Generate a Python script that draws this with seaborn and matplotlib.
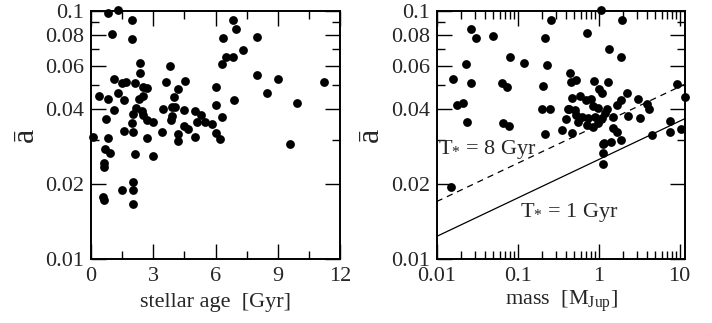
import numpy as np
import pandas as pd
import matplotlib
matplotlib.use("Agg")
import matplotlib.pyplot as plt
from matplotlib.ticker import FixedLocator, NullFormatter, FixedFormatter
import seaborn as sns

# ---- stellar age vs. mean semimajor-axis ratio ----
age_gyr = [0.80, 1.32, 1.99, 1.00, 1.99, 6.82, 6.99, 6.38, 8.02, 7.31,
           6.50, 6.83, 6.32, 2.38, 3.81, 2.38, 8.02, 9.00, 11.22, 1.09,
           1.51, 1.69, 2.11, 2.49, 2.72, 3.62, 4.52, 4.20, 6.01, 0.39,
           0.80, 1.30, 1.61, 2.30, 2.49, 4.02, 8.50, 6.90, 9.92, 1.11,
           2.19, 2.48, 2.01, 3.49, 3.89, 4.07, 3.91, 3.84, 4.50, 5.00,
           5.10, 5.31, 5.51, 5.82, 6.01, 6.32, 0.71, 1.99, 2.72, 2.99,
           4.49, 4.68, 1.58, 2.01, 3.41, 4.20, 4.20, 5.02, 6.03, 6.22,
           0.11, 0.80, 2.72, 9.60, 0.66, 0.90, 2.11, 3.01, 0.61, 0.61,
           0.59, 0.61, 1.50, 2.01, 2.01, 2.01, 2.52]
abar_age = [0.0976, 0.1006, 0.0917, 0.0805, 0.0771, 0.0917, 0.0846, 0.0773, 0.0786, 0.0694,
            0.0652, 0.0648, 0.0608, 0.0617, 0.0600, 0.0562, 0.0550, 0.0529, 0.0514, 0.0529,
            0.0509, 0.0514, 0.0513, 0.0494, 0.0486, 0.0516, 0.0519, 0.0482, 0.0491, 0.0454,
            0.0439, 0.0464, 0.0438, 0.0442, 0.0454, 0.0447, 0.0464, 0.0436, 0.0426, 0.0399,
            0.0404, 0.0394, 0.0382, 0.0403, 0.0410, 0.0410, 0.0377, 0.0362, 0.0396, 0.0394,
            0.0357, 0.0380, 0.0357, 0.0349, 0.0417, 0.0372, 0.0367, 0.0354, 0.0362, 0.0357,
            0.0343, 0.0332, 0.0327, 0.0323, 0.0323, 0.0318, 0.0299, 0.0309, 0.0322, 0.0303,
            0.0310, 0.0308, 0.0306, 0.0290, 0.0276, 0.0267, 0.0264, 0.0259, 0.0244, 0.0235,
            0.0178, 0.0173, 0.0190, 0.0204, 0.0190, 0.0166, 0.0380]

# ---- planet mass vs. mean semimajor-axis ratio ----
mass_mjup = [1.07, 0.261, 1.92, 0.0266, 0.0303, 0.0491, 0.217, 0.718, 1.33, 1.87,
             0.0804, 0.1197, 0.0228, 0.228, 0.0161, 0.0263, 0.0647, 0.0738, 0.2075, 0.447,
             0.455, 0.525, 0.884, 1.29, 1.01, 2.22, 9.18, 11.7, 0.0180, 0.0209,
             0.0239, 0.198, 0.251, 0.0653, 0.0782, 0.220, 0.352, 0.473, 0.414, 0.465,
             0.594, 0.698, 0.812, 1.09, 1.67, 1.87, 3.03, 3.92, 4.23, 2.32,
             3.24, 4.51, 7.6, 7.5, 10.3, 1.49, 1.52, 1.70, 1.89, 1.12,
             1.16, 1.42, 1.12, 1.14, 0.0150,
             0.427, 0.395, 0.520, 0.617, 0.745, 0.561, 0.711, 0.860, 0.99, 0.99,
             1.20, 0.90, 1.09, 0.84, 1.26, 0.51]
abar_mass = [0.1006, 0.0917, 0.0917, 0.0846, 0.0773, 0.0791, 0.0773, 0.0810, 0.0698, 0.0652,
             0.0648, 0.0617, 0.0608, 0.0602, 0.0529, 0.0509, 0.0509, 0.0491, 0.0497, 0.0562,
             0.0517, 0.0525, 0.0520, 0.0517, 0.0482, 0.0467, 0.0506, 0.0450, 0.0417, 0.0426,
             0.0357, 0.0400, 0.0400, 0.0351, 0.0344, 0.0318, 0.0330, 0.0322, 0.0400, 0.0443,
             0.0454, 0.0436, 0.0440, 0.0464, 0.0415, 0.0436, 0.0440, 0.0420, 0.0403, 0.0376,
             0.0370, 0.0315, 0.0358, 0.0323, 0.0332, 0.0372, 0.0335, 0.0325, 0.0301, 0.0290,
             0.0293, 0.0296, 0.0268, 0.0241, 0.0195,
             0.0401, 0.0366, 0.0380, 0.0374, 0.0368, 0.0357, 0.0346, 0.0341, 0.0351, 0.0404,
             0.0386, 0.0374, 0.0368, 0.0413, 0.0400, 0.0398]

# ---- tidal-decay limits for two stellar ages ----
line_mass = [0.01, 12.0]
abar_1gyr = [0.0123, 0.0369]
abar_8gyr = [0.0170, 0.0508]

y_major = [0.01, 0.02, 0.04, 0.06, 0.08, 0.1]
y_major_labels = ["0.01", "0.02", "0.04", "0.06", "0.08", "0.1"]
y_minor = [0.03, 0.05, 0.07, 0.09]
age_major = [0, 3, 6, 9, 12]
age_minor = [1.5, 4.5, 7.5, 10.5]
mass_major = [0.01, 0.1, 1, 10]
mass_major_labels = ["0.01", "0.1", "1", "10"]
mass_minor = [m * d for m in (0.01, 0.1, 1) for d in range(2, 10)]

sns.set_style("ticks")
plt.rcParams.update({
    "font.family": ["Liberation Serif", "DejaVu Serif"],
    "mathtext.fontset": "custom",
    "mathtext.rm": "Liberation Serif",
    "mathtext.it": "Liberation Serif:italic",
    "font.size": 16,
    "axes.linewidth": 1.4,
    "axes.edgecolor": "black",
})

fig = plt.figure(figsize=(7.12, 3.23), dpi=100)
ax1 = fig.add_axes([91 / 712, 1 - 258.7 / 323, 249 / 712, 248 / 323])
ax2 = fig.add_axes([436.7 / 712, 1 - 258.7 / 323, 248.5 / 712, 248 / 323])

df_age = pd.DataFrame({"age": age_gyr, "abar": abar_age})
df_mass = pd.DataFrame({"mass": mass_mjup, "abar": abar_mass})

scatter_kw = dict(color="black", s=40, linewidth=0, clip_on=False, zorder=3)
sns.scatterplot(data=df_age, x="age", y="abar", ax=ax1, **scatter_kw)
sns.scatterplot(data=df_mass, x="mass", y="abar", ax=ax2, **scatter_kw)

sns.lineplot(x=line_mass, y=abar_8gyr, ax=ax2, color="black", lw=0.9,
             linestyle=(0, (5, 4)), zorder=2)
sns.lineplot(x=line_mass, y=abar_1gyr, ax=ax2, color="black", lw=0.9, zorder=2)

for ax in (ax1, ax2):
    ax.set_yscale("log")
    ax.set_ylim(0.01, 0.1)
    ax.yaxis.set_major_locator(FixedLocator(y_major))
    ax.yaxis.set_major_formatter(FixedFormatter(y_major_labels))
    ax.yaxis.set_minor_locator(FixedLocator(y_minor))
    ax.yaxis.set_minor_formatter(NullFormatter())
    ax.tick_params(which="both", direction="in", top=True, right=True,
                   width=1.0, color="black", labelsize=16)
    ax.tick_params(which="major", length=10.5)
    ax.tick_params(which="minor", length=5.5)
    ax.tick_params(axis="x", pad=6)
    ax.tick_params(axis="y", pad=5)
    ax.set_ylabel("ā", fontsize=23, labelpad=4)
    for sp in ax.spines.values():
        sp.set_visible(True)

ax1.set_xlim(0, 12)
ax1.xaxis.set_major_locator(FixedLocator(age_major))
ax1.xaxis.set_minor_locator(FixedLocator(age_minor))
ax1.set_xlabel("stellar age  [Gyr]", fontsize=16, labelpad=5)

ax2.set_xscale("log")
ax2.set_xlim(0.01, 11.7)
ax2.xaxis.set_major_locator(FixedLocator(mass_major))
ax2.xaxis.set_major_formatter(FixedFormatter(mass_major_labels))
ax2.xaxis.set_minor_locator(FixedLocator(mass_minor))
ax2.xaxis.set_minor_formatter(NullFormatter())
ax2.set_xlabel(r"mass  [M$_{\mathrm{Jup}}$]", fontsize=16, labelpad=2)

ax2.text(0.0105, 0.0275, r"T$_{\mathrm{*}}$ = 8 Gyr", fontsize=16,
         ha="left", va="center")
ax2.text(0.107, 0.0154, r"T$_{\mathrm{*}}$ = 1 Gyr", fontsize=16,
         ha="left", va="center")

fig.savefig("out.png", dpi=100)
